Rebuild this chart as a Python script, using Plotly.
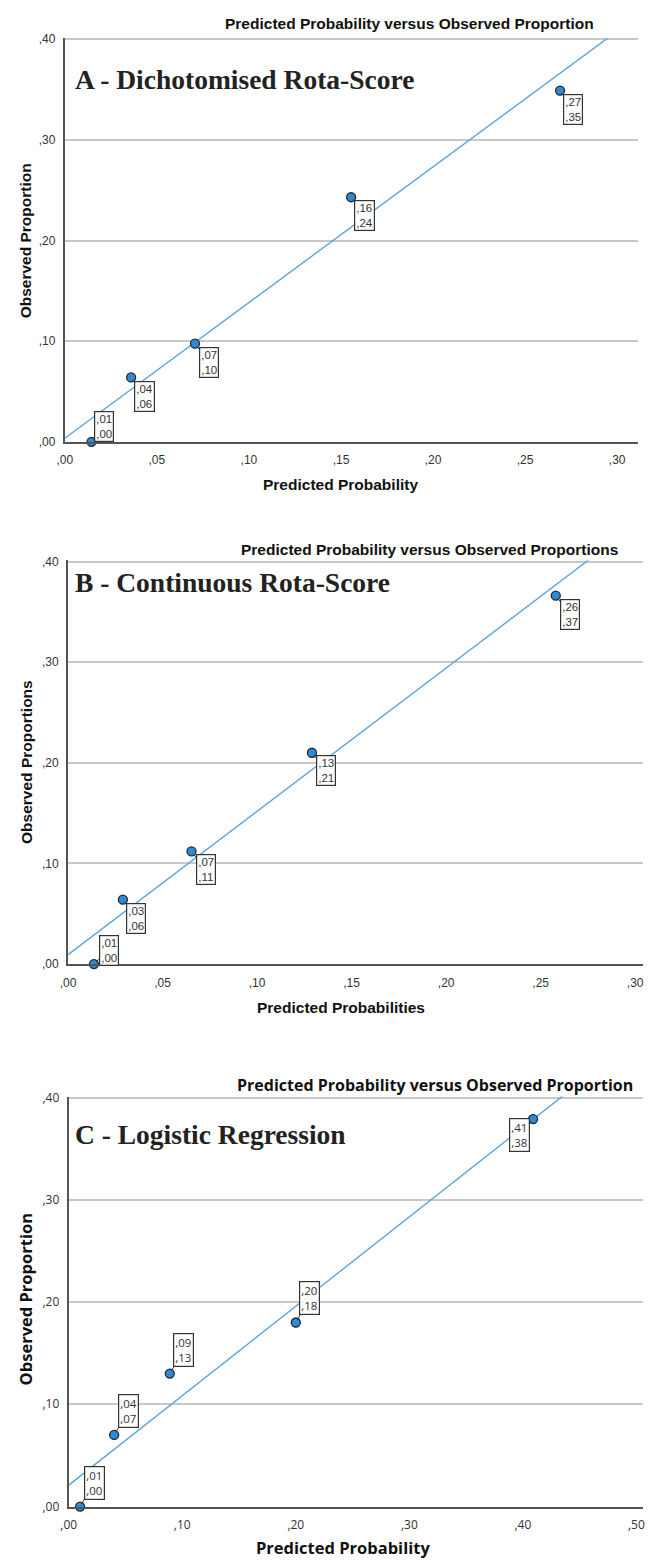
import numpy as np
import plotly.graph_objects as go

W, H = 649, 1565

# Calibration data: mean predicted probability vs observed proportion per group
a_pred = [0.0145, 0.036, 0.0707, 0.1555, 0.269]
a_obs = [0.000, 0.064, 0.0975, 0.243, 0.349]

b_pred = [0.0137, 0.029, 0.0653, 0.129, 0.258]
b_obs = [0.000, 0.064, 0.112, 0.210, 0.366]

c_pred = [0.010, 0.040, 0.089, 0.200, 0.409]
c_obs = [0.000, 0.070, 0.130, 0.180, 0.379]

ab_ticks = [0.00, 0.05, 0.10, 0.15, 0.20, 0.25, 0.30]
c_xticks = [0.0, 0.1, 0.2, 0.3, 0.4, 0.5]
y_ticks = [0.0, 0.1, 0.2, 0.3, 0.4]

panel_names = ["A - Dichotomised Rota-Score", "B - Continuous Rota-Score", "C - Logistic Regression"]
chart_titles = ["Predicted Probability versus Observed Proportion",
                "Predicted Probability versus Observed Proportions",
                "Predicted Probability versus Observed Proportion"]
x_titles = ["Predicted Probability", "Predicted Probabilities", "Predicted Probability"]
y_titles = ["Observed Proportion", "Observed Proportions", "Observed Proportion"]


def comma(v):
    # ",27" style decimal labels
    return "," + f"{v:.2f}".split(".")[1]


def px_x(p):
    return p / W


def px_y(p):
    return 1 - p / H


SANS = "Liberation Sans, Arial, sans-serif"
SANS_C = "Open Sans, DejaVu Sans, sans-serif"
SERIF = "Liberation Serif, Times New Roman, serif"

# per panel: data, x domain px, x range, y domain px (bottom, top), x ticks, fonts
panels = [
    dict(x=a_pred, y=a_obs, xd=(57.7, 640), xr=(0, 0.3114), yd=(438.3, 30.5), xt=ab_ticks, font=SANS,
         offs=[(12.5, -15.5), (13.8, 19), (13.8, 18.5), (13.6, 18.2), (12.5, 19)],
         title_xy=(597, 16), label_xy=(66, 72), xt_xy=(338, 481), yt_xy=(18, 235),
         tsize=15.5, asize=15.5),
    dict(x=b_pred, y=b_obs, xd=(61, 645), xr=(0, 0.30417), yd=(966, 558.2), xt=ab_ticks, font=SANS,
         offs=[(14.7, -14), (13.5, 18.5), (14.5, 17.8), (14.5, 17.5), (14.5, 18.5)],
         title_xy=(622, 547), label_xy=(66, 580), xt_xy=(338, 1010), yt_xy=(18, 762),
         tsize=15.5, asize=15.5),
    dict(x=c_pred, y=c_obs, xd=(61.7, 645), xr=(0, 0.5059), yd=(1514, 1099.8), xt=c_xticks, font=SANS_C,
         offs=[(14, -24), (14, -24), (14, -24), (14, -24), (-14, 16)],
         title_xy=(637, 1088), label_xy=(66, 1138), xt_xy=(340, 1555), yt_xy=(18, 1305),
         tsize=16, asize=16.5),
]

fig = go.Figure()
annotations = []
layout = {}

for i, p in enumerate(panels):
    n = "" if i == 0 else str(i + 1)
    xa, ya = "x" + n, "y" + n

    # fitted reference line (least squares of observed on predicted)
    slope, icpt = np.polyfit(p["x"], p["y"], 1)
    lx = np.array([p["xr"][0], p["xr"][1]])
    fig.add_trace(go.Scatter(x=lx, y=icpt + slope * lx, mode="lines", xaxis=xa, yaxis=ya,
                             line=dict(color="#5aa5df", width=1.4), hoverinfo="skip",
                             showlegend=False))
    fig.add_trace(go.Scatter(x=p["x"], y=p["y"], mode="markers", xaxis=xa, yaxis=ya,
                             marker=dict(size=9, color="#2f8ad3",
                                         line=dict(color="#1f2a33", width=1.3)),
                             showlegend=False, cliponaxis=False))

    tickfont = dict(family=p["font"], size=12, color="#333333")
    layout["xaxis" + n] = dict(
        domain=[px_x(p["xd"][0]), px_x(p["xd"][1])], range=list(p["xr"]), anchor=ya,
        tickvals=p["xt"], ticktext=[comma(v) for v in p["xt"]], tickfont=tickfont,
        showgrid=False, zeroline=False, showline=True, linecolor="#555555", linewidth=2,
        ticks="", ticklabelstandoff=6, fixedrange=True)
    layout["yaxis" + n] = dict(
        domain=[px_y(p["yd"][0]), px_y(p["yd"][1])], range=[0, 0.401], anchor=xa,
        tickvals=y_ticks, ticktext=[comma(v) for v in y_ticks], tickfont=tickfont,
        showgrid=True, gridcolor="#c8c8c8", gridwidth=1.5, zeroline=False,
        showline=True, linecolor="#555555", linewidth=2, ticks="", ticklabelstandoff=5,
        fixedrange=True)

    # value labels in boxes
    for (vx, vy), (ox, oy) in zip(zip(p["x"], p["y"]), p["offs"]):
        annotations.append(dict(
            x=vx, y=vy, xref=xa, yref=ya, text=comma(vx) + "<br>" + comma(vy),
            showarrow=True, arrowhead=0, arrowwidth=1, arrowcolor="#333333", standoff=3,
            ax=ox, ay=oy, align="left", bgcolor="rgba(255,255,255,0.9)",
            bordercolor="#333333", borderwidth=1.2, borderpad=1,
            font=dict(family=p["font"], size=11.5, color="#333333")))

    # chart title
    tx, ty = p["title_xy"]
    annotations.append(dict(x=px_x(tx), y=px_y(ty), xref="paper", yref="paper",
                            xanchor="right", yanchor="middle", showarrow=False,
                            text="<b>" + chart_titles[i] + "</b>",
                            font=dict(family=p["font"], size=p["tsize"], color="#111111")))
    # panel label
    lx_, ly_ = p["label_xy"]
    annotations.append(dict(x=px_x(lx_), y=px_y(ly_), xref="paper", yref="paper",
                            xanchor="left", yanchor="middle", showarrow=False,
                            text="<b>" + panel_names[i] + "</b>",
                            font=dict(family=SERIF, size=27.5, color="#222222")))
    # axis titles
    ax_, ay_ = p["xt_xy"]
    annotations.append(dict(x=px_x(ax_), y=px_y(ay_), xref="paper", yref="paper",
                            xanchor="center", yanchor="middle", showarrow=False,
                            text="<b>" + x_titles[i] + "</b>",
                            font=dict(family=p["font"], size=p["asize"], color="#111111")))
    yx_, yy_ = p["yt_xy"]
    annotations.append(dict(x=px_x(yx_), y=px_y(yy_), xref="paper", yref="paper",
                            xanchor="center", yanchor="middle", showarrow=False,
                            textangle=-90, text="<b>" + y_titles[i] + "</b>",
                            font=dict(family=p["font"], size=p["asize"], color="#111111")))

fig.update_layout(
    width=W, height=H, margin=dict(l=0, r=0, t=0, b=0),
    paper_bgcolor="white", plot_bgcolor="white", showlegend=False,
    annotations=annotations, **layout)

fig.write_html("out.html")
